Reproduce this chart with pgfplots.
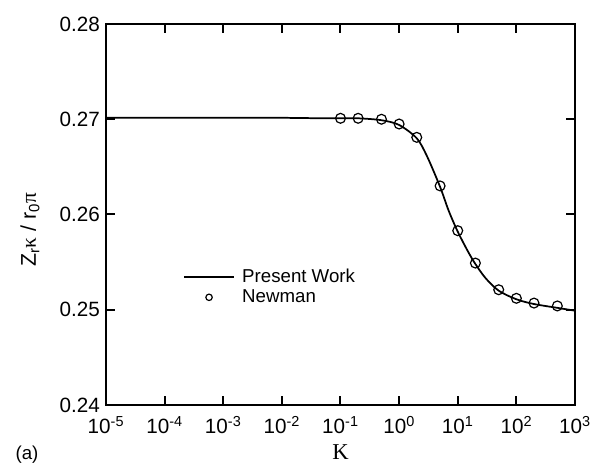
\documentclass[border=0pt]{standalone}
\usepackage{fontspec}
\setmainfont{Liberation Sans}
\newfontfamily\serif{Liberation Serif}
\usepackage{pgfplots}
\pgfplotsset{compat=1.18}
\begin{document}
\begin{tikzpicture}
\path[use as bounding box] (-79.5pt,-44.25pt) rectangle (365.25pt,303.75pt);
\begin{axis}[
  at={(0,0)}, anchor=south west,
  scale only axis, width=351.75pt, height=285.75pt,
  xmode=log, xmin=1e-5, xmax=1e3,
  ymin=0.24, ymax=0.28,
  xtick={1e-5,1e-4,1e-3,1e-2,1e-1,1,1e1,1e2,1e3},
  xticklabels={10\textsuperscript{-5},10\textsuperscript{-4},10\textsuperscript{-3},10\textsuperscript{-2},10\textsuperscript{-1},10\textsuperscript{0},10\textsuperscript{1},10\textsuperscript{2},10\textsuperscript{3}},
  ytick={0.24,0.25,0.26,0.27,0.28},
  xminorticks=false, yminorticks=false,
  tick align=inside,
  major tick length=6.75pt,
  axis line style={line width=1.5pt},
  every tick/.style={line width=1.5pt, black},
  tick label style={font=\fontsize{15.5}{18}\selectfont},
  xticklabel style={yshift=-5pt},
  yticklabel style={xshift=-1pt, /pgf/number format/fixed, /pgf/number format/precision=2, /pgf/number format/fixed zerofill, /pgf/number format/assume math mode=true},
  xlabel={{\serif K}},
  xlabel style={font=\fontsize{17}{20}\selectfont, at={(axis description cs:0.5,0)}, anchor=center, yshift=-35pt},
  ylabel={Z\textsubscript{r}{\serif κ} / r\textsubscript{0}{\serif π}},
  ylabel style={font=\fontsize{16}{19}\selectfont, at={(axis description cs:-0.162,0.46)}, anchor=center},
  legend style={draw=none, fill=none, at={(rel axis cs:0.164,0.31)}, anchor=west, inner sep=0pt, font=\fontsize{14}{16}\selectfont, row sep=1pt, column sep=4pt, nodes={inner sep=1.5pt}},
  legend cell align=left,
  legend image code/.code={\draw[#1, line width=1.3pt] (0pt,0pt) -- (37.5pt,0pt);},
  clip=false,
]
\addplot[black, line width=1.3pt, smooth] coordinates {
(1e-5,0.27015) (1e-3,0.27015) (1e-2,0.27015) (0.05,0.2701) (0.1,0.2701) (0.2,0.2701) (0.5,0.2699) (1,0.2694) (2,0.2680) (3,0.2661) (5,0.2629) (7,0.2604) (10,0.2582) (15,0.2561) (20,0.2548) (30,0.2533) (50,0.2520) (100,0.2511) (200,0.2506) (500,0.2502) (1000,0.2499)
};
\addlegendentry{Present Work}
\addplot[only marks, mark=o, mark size=3.7pt, black, line width=0.9pt, mark options={fill=white}, legend image code/.code={\draw[mark options={scale=0.65}] plot coordinates {(18.75pt,0pt)};}] coordinates {
(0.1,0.2701) (0.2,0.2701) (0.5,0.2700) (1,0.2695) (2,0.2681) (5,0.2630) (10,0.2583) (20,0.2549) (50,0.2521) (100,0.2512) (200,0.2507) (500,0.2504)
};
\addlegendentry{Newman}
\end{axis}
\node[font=\fontsize{14}{16}\selectfont, inner sep=0pt] at (-59.25pt,-37.5pt) {(a)};
\end{tikzpicture}
\end{document}
